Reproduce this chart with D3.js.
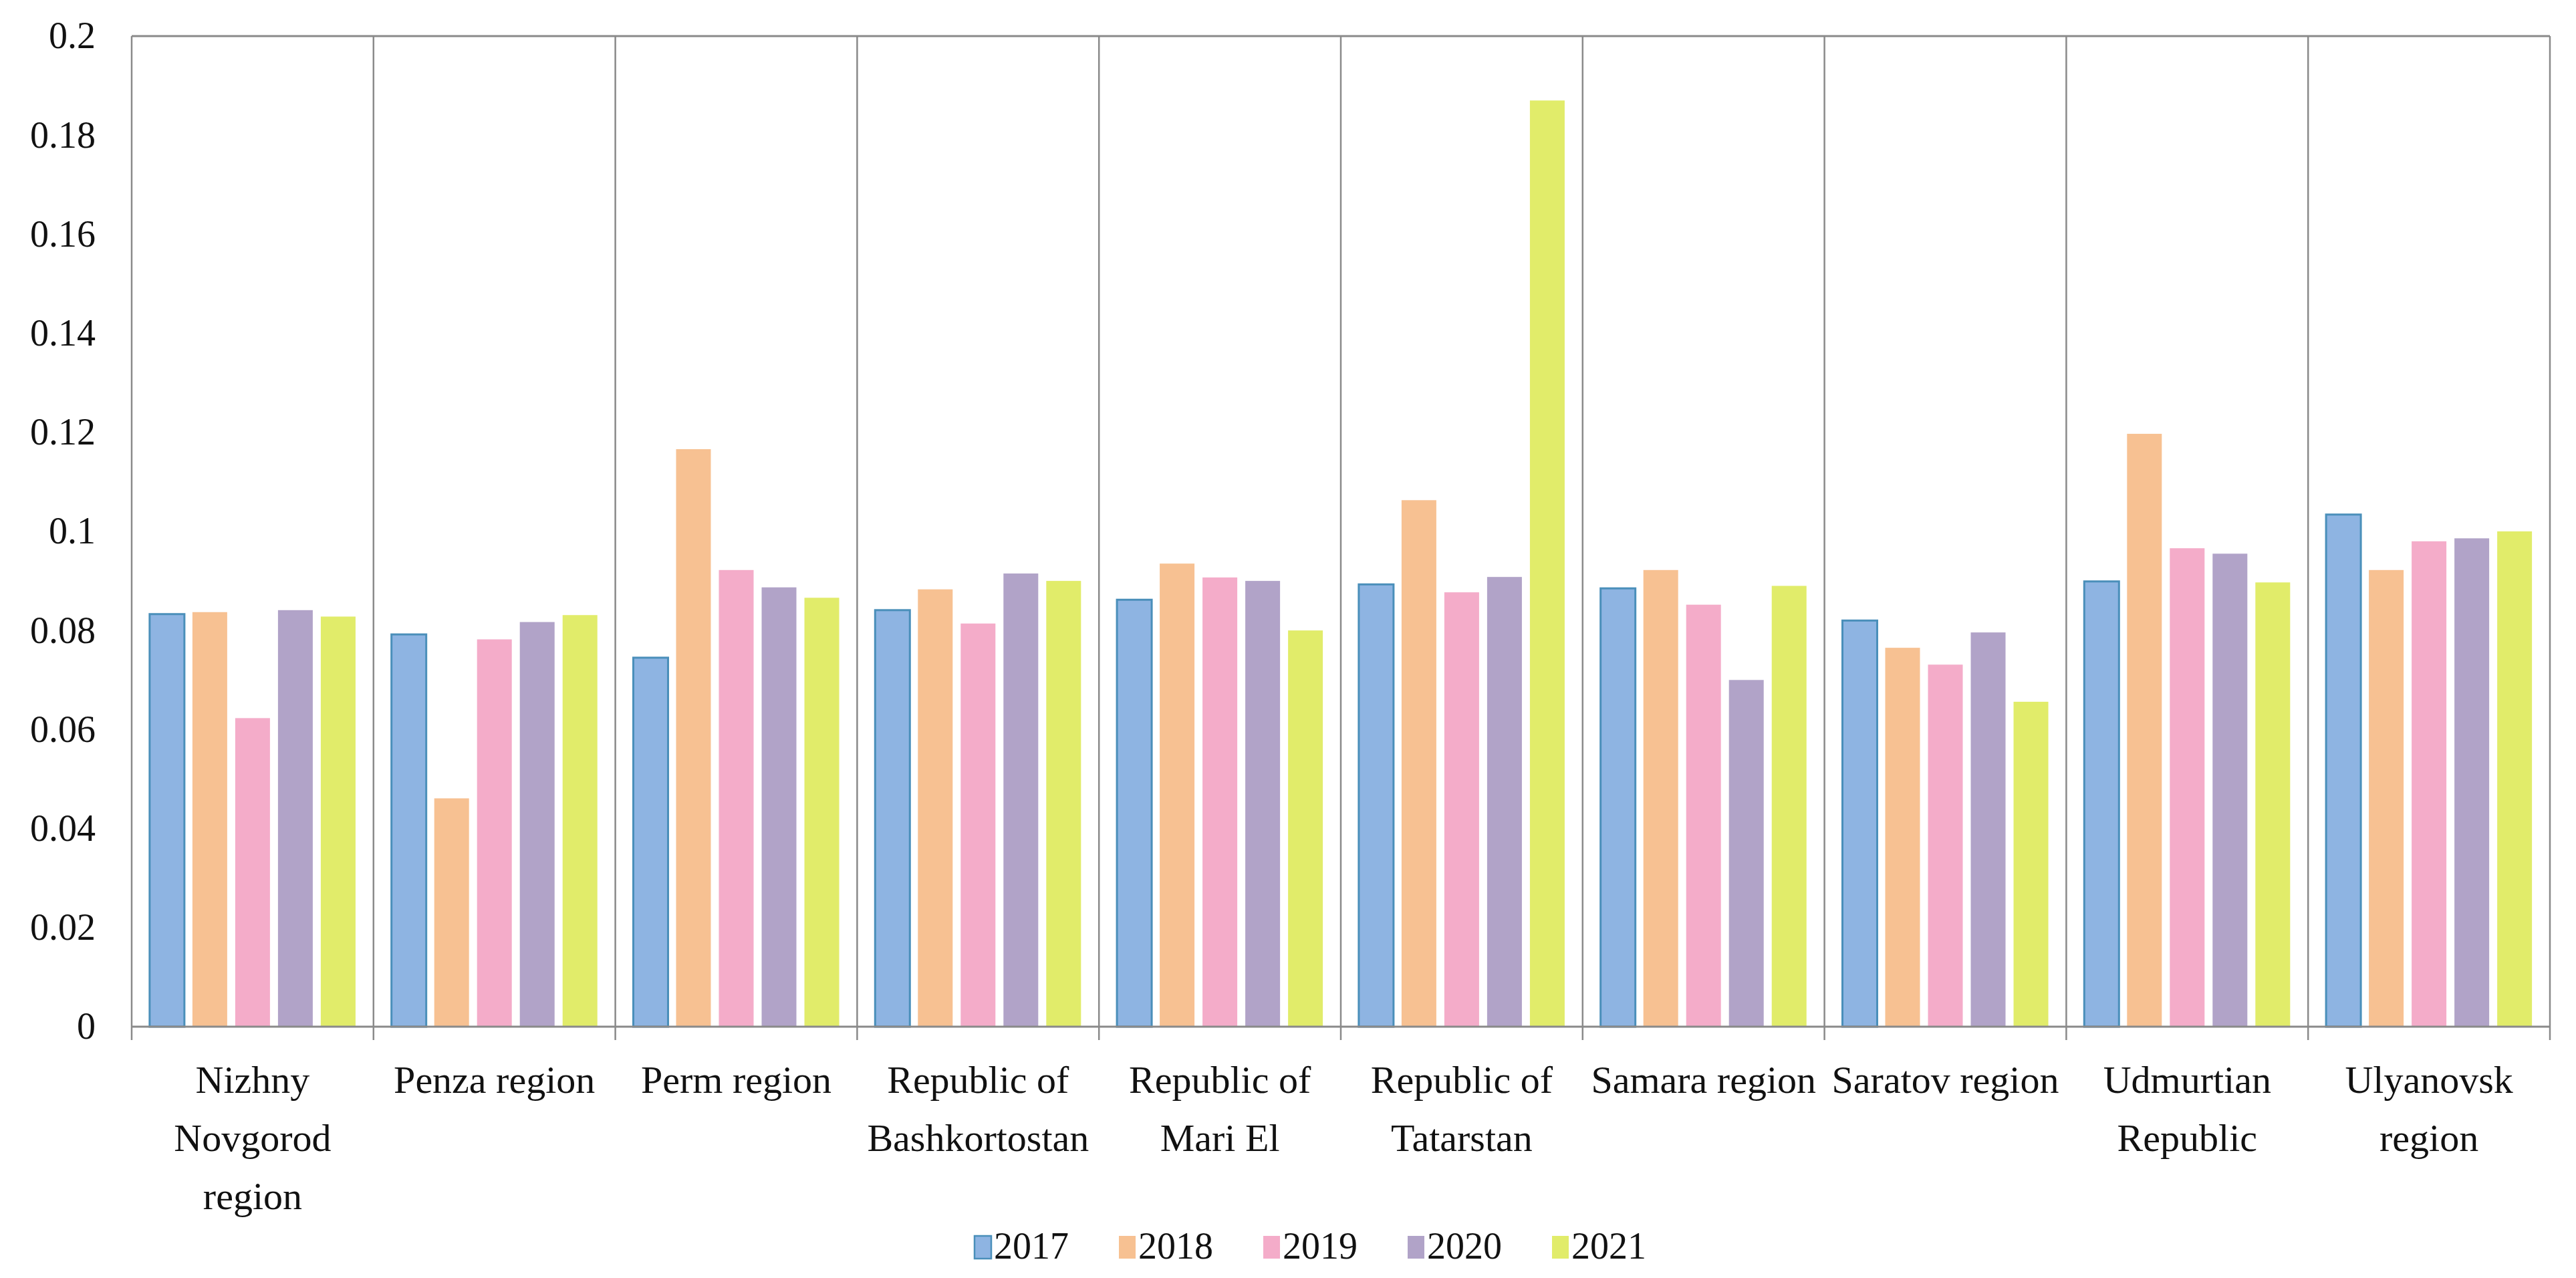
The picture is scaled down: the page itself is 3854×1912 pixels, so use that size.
<!DOCTYPE html>
<html>
<head>
<meta charset="utf-8">
<script src="https://cdn.jsdelivr.net/npm/d3@7"></script>
<style>
  body { margin: 0; background: #fff; }
  text { font-family: "Liberation Serif", "DejaVu Serif", serif; fill: #111; }
</style>
</head>
<body>
<svg id="chart" width="3854" height="1912"></svg>
<script>
// regions and how their labels wrap under the axis
var categories = ["Nizhny Novgorod region", "Penza region", "Perm region", "Republic of Bashkortostan",
  "Republic of Mari El", "Republic of Tatarstan", "Samara region", "Saratov region",
  "Udmurtian Republic", "Ulyanovsk region"];
var categoryLines = [["Nizhny", "Novgorod", "region"], ["Penza region"], ["Perm region"],
  ["Republic of", "Bashkortostan"], ["Republic of", "Mari El"], ["Republic of", "Tatarstan"],
  ["Samara region"], ["Saratov region"], ["Udmurtian", "Republic"], ["Ulyanovsk", "region"]];

var years = ["2017", "2018", "2019", "2020", "2021"];
var v2017 = [0.0833, 0.0792, 0.0745, 0.0841, 0.0862, 0.0893, 0.0885, 0.0820, 0.0899, 0.1034];
var v2018 = [0.0837, 0.0461, 0.1166, 0.0883, 0.0935, 0.1063, 0.0922, 0.0765, 0.1197, 0.0922];
var v2019 = [0.0623, 0.0782, 0.0922, 0.0814, 0.0907, 0.0877, 0.0852, 0.0731, 0.0966, 0.0980];
var v2020 = [0.0841, 0.0817, 0.0887, 0.0915, 0.0900, 0.0908, 0.0700, 0.0796, 0.0955, 0.0986];
var v2021 = [0.0828, 0.0831, 0.0866, 0.0900, 0.0800, 0.1870, 0.0890, 0.0656, 0.0897, 0.1000];
var series = [v2017, v2018, v2019, v2020, v2021];

var yTicks = [0, 0.02, 0.04, 0.06, 0.08, 0.1, 0.12, 0.14, 0.16, 0.18, 0.2];
var yTickLabels = ["0", "0.02", "0.04", "0.06", "0.08", "0.1", "0.12", "0.14", "0.16", "0.18", "0.2"];

var colors = ["#8EB4E2", "#F7C192", "#F4ACC9", "#B1A3C8", "#E1EC6A"];
var lineColor = "#8a8a8a";

var svg = d3.select("#chart");
var margin = {top: 54, right: 39, bottom: 376, left: 197};
var width = +svg.attr("width") - margin.left - margin.right,
    height = +svg.attr("height") - margin.top - margin.bottom;

var g = svg.append("g").attr("transform", "translate(" + margin.left + "," + margin.top + ")");

var x = d3.scaleBand().domain(categories).range([0, width]).padding(0);
var xInner = d3.scaleBand().domain(years).range([0, x.bandwidth()])
  .paddingInner(0.1875).paddingOuter(0.42);
var y = d3.scaleLinear().domain([0, 0.2]).range([height, 0]);

// bars
var groups = g.selectAll(".group")
  .data(categories)
  .enter().append("g")
  .attr("class", "group")
  .attr("transform", function(d) { return "translate(" + x(d) + ",0)"; });

groups.selectAll("rect")
  .data(function(d, i) { return years.map(function(yr, k) { return {year: yr, k: k, value: series[k][i]}; }); })
  .enter().append("rect")
  .attr("x", function(d) { return xInner(d.year); })
  .attr("y", function(d) { return y(d.value); })
  .attr("width", xInner.bandwidth())
  .attr("height", function(d) { return height - y(d.value); })
  .attr("fill", function(d) { return colors[d.k]; })
  .attr("stroke", function(d) { return d.k === 0 ? "#4A8FBA" : "none"; })
  .attr("stroke-width", 3);

// frame: top line, baseline, separators with ticks below axis
g.append("line")
  .attr("x1", 0).attr("x2", width).attr("y1", 0).attr("y2", 0)
  .attr("stroke", lineColor).attr("stroke-width", 3);
g.append("line")
  .attr("x1", 0).attr("x2", width).attr("y1", height).attr("y2", height)
  .attr("stroke", lineColor).attr("stroke-width", 3);

var bounds = categories.map(function(c) { return x(c); }).concat([width]);
g.selectAll(".sep")
  .data(bounds)
  .enter().append("line")
  .attr("class", "sep")
  .attr("x1", function(d) { return d; }).attr("x2", function(d) { return d; })
  .attr("y1", 0).attr("y2", height + 20)
  .attr("stroke", lineColor).attr("stroke-width", 2.5);

// y axis labels
var yAxis = d3.axisLeft(y)
  .tickValues(yTicks)
  .tickSize(0)
  .tickPadding(54)
  .tickFormat(function(d, i) { return yTickLabels[i]; });

var yg = g.append("g").call(yAxis);
yg.select(".domain").remove();
yg.selectAll("text")
  .style("font-family", '"Liberation Serif", serif')
  .style("font-size", "56px")
  .attr("fill", "#111");

// x axis labels (wrapped)
var xAxis = d3.axisBottom(x).tickSize(0).tickPadding(0);
var xg = g.append("g").attr("transform", "translate(0," + height + ")").call(xAxis);
xg.select(".domain").remove();
xg.selectAll("text").each(function(d, i) {
  var t = d3.select(this).text(null)
    .attr("y", 0).attr("dy", null)
    .style("font-family", '"Liberation Serif", serif')
    .style("font-size", "58px")
    .attr("fill", "#111");
  categoryLines[i].forEach(function(line, j) {
    t.append("tspan").attr("x", 0).attr("y", 99 + j * 87).text(line);
  });
});

// legend
var legend = svg.append("g").attr("transform", "translate(1458,1849)");
var items = legend.selectAll(".item")
  .data(years)
  .enter().append("g")
  .attr("class", "item")
  .attr("transform", function(d, i) { return "translate(" + i * 216 + ",0)"; });

items.append("rect")
  .attr("width", 25).attr("height", 34)
  .attr("fill", function(d, i) { return colors[i]; })
  .attr("stroke", function(d, i) { return i === 0 ? "#4A8FBA" : "none"; })
  .attr("stroke-width", 2.5);

items.append("text")
  .attr("x", 29)
  .attr("y", 34)
  .style("font-size", "56px")
  .text(function(d) { return d; });
</script>
</body>
</html>
